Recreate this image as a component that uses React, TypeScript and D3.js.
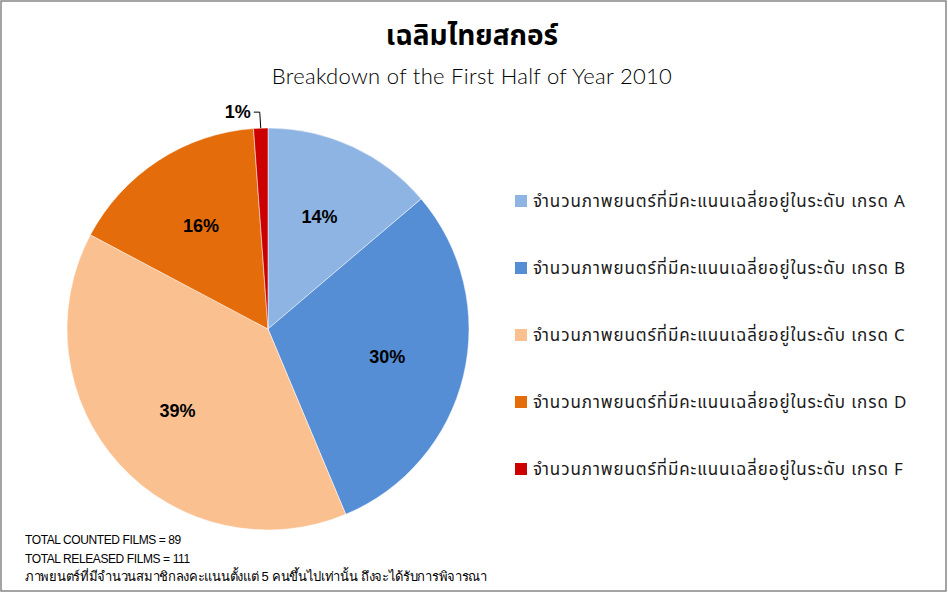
import React, { useEffect } from "react";
import * as d3 from "d3";

const categories = [
  "จำนวนภาพยนตร์ที่มีคะแนนเฉลี่ยอยู่ในระดับ เกรด A",
  "จำนวนภาพยนตร์ที่มีคะแนนเฉลี่ยอยู่ในระดับ เกรด B",
  "จำนวนภาพยนตร์ที่มีคะแนนเฉลี่ยอยู่ในระดับ เกรด C",
  "จำนวนภาพยนตร์ที่มีคะแนนเฉลี่ยอยู่ในระดับ เกรด D",
  "จำนวนภาพยนตร์ที่มีคะแนนเฉลี่ยอยู่ในระดับ เกรด F",
];
const values = [12, 26, 34, 14, 1];
const colors = ["#8EB4E3", "#558ED5", "#FAC090", "#E46C0A", "#CC0000"];
const title = "เฉลิมไทยสกอร์";
const subtitle = "Breakdown of the First Half of Year 2010";
const notes = [
  "TOTAL COUNTED FILMS = 89",
  "TOTAL RELEASED FILMS = 111",
  "ภาพยนตร์ที่มีจำนวนสมาชิกลงคะแนนตั้งแต่ 5 คนขึ้นไปเท่านั้น ถึงจะได้รับการพิจารณา",
];

const W = 948;
const H = 593;
const cx = 268;
const cy = 329;
const R = 201;

export default function App() {
  useEffect(() => {
    document.body.style.margin = "0";
  }, []);

  const total = d3.sum(values);
  const pie = d3.pie<number>().sort(null).value((d) => d);
  const arcs = pie(values);
  const arcGen = d3.arc<d3.PieArcDatum<number>>().innerRadius(0).outerRadius(R);
  const pct = (v: number) => `${Math.round((v / total) * 100)}%`;

  const legendY = d3.scalePoint<number>().domain(d3.range(categories.length)).range([201, 469]);

  const labelFont = "'Liberation Sans', Arial, sans-serif";

  return (
    <svg width={W} height={H} style={{ display: "block" }}>
      <rect x={1} y={1} width={945} height={590} fill="#fff" stroke="#868686" strokeWidth={1.5} />
      <text x={472} y={45} textAnchor="middle" fontFamily="'Noto Sans Thai', 'Noto Sans', 'DejaVu Sans', sans-serif" fontWeight="bold" fontSize={28} fill="#000">
        {title}
      </text>
      <text x={472} y={84} textAnchor="middle" fontFamily="Lato, 'Open Sans', sans-serif" fontWeight={300} fontSize={22} fill="#000" letterSpacing={0.3}>
        {subtitle}
      </text>
      <g transform={`translate(${cx},${cy})`}>
        {arcs.map((a, i) => (
          <path key={i} d={arcGen(a) || ""} fill={colors[i]} stroke="#fff" strokeWidth={0.5} />
        ))}
        {arcs.map((a, i) => {
          if (a.endAngle - a.startAngle < 0.15) {
            const mid = (a.startAngle + a.endAngle) / 2;
            const x0 = Math.sin(mid) * R;
            const y0 = -Math.cos(mid) * R;
            const y1 = y0 - 16;
            const x1 = x0 - 1;
            const x2 = x1 - 6;
            return (
              <g key={i}>
                <polyline points={`${x0},${y0} ${x1},${y1} ${x2},${y1}`} fill="none" stroke="#000" strokeWidth={1} />
                <text x={x2 - 3} y={y1 + 6} textAnchor="end" fontFamily={labelFont} fontWeight="bold" fontSize={18} fill="#000">
                  {pct(a.data)}
                </text>
              </g>
            );
          }
          const ia = d3.arc<d3.PieArcDatum<number>>().innerRadius(R * 0.61).outerRadius(R * 0.61);
          const [x, y] = ia.centroid(a);
          return (
            <text key={i} x={x} y={y} dy="0.3em" textAnchor="middle" fontFamily={labelFont} fontWeight="bold" fontSize={18} fill="#000">
              {pct(a.data)}
            </text>
          );
        })}
      </g>
      {categories.map((c, i) => (
        <g key={i} transform={`translate(515,${legendY(i)})`}>
          <rect x={0} y={-6} width={12} height={12} fill={colors[i]} />
          <text x={18} y={0} dy="0.35em" fontFamily="'Noto Sans Thai', 'DejaVu Sans', sans-serif" fontSize={17} fill="#1a1a1a" letterSpacing={0.9}>
            {c}
          </text>
        </g>
      ))}
      {notes.map((n, i) => (
        <text key={i} x={25} y={[544, 563, 581][i]} fontFamily={labelFont} fontSize={i === 2 ? 13 : 12} fill="#000" letterSpacing={i === 2 ? -0.3 : -0.4}>
          {n}
        </text>
      ))}
    </svg>
  );
}
